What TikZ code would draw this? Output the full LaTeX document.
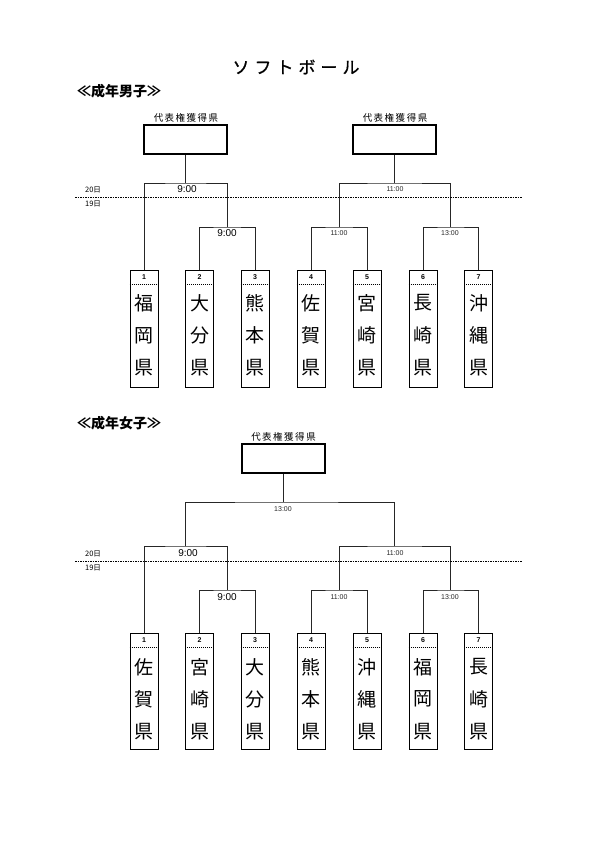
\documentclass[tikz,border=0pt]{standalone}
\usepackage{fontspec}
\setmainfont{Noto Sans CJK JP}
\newfontfamily\jpmed[FakeBold=0.9]{Noto Sans CJK JP}
\newfontfamily\lat{Liberation Sans}
\begin{document}
\begin{tikzpicture}[x=1pt,y=-1pt,
  entry/.style={draw,line width=0.8pt,minimum width=28pt,minimum height=117pt,inner sep=0pt,anchor=north},
  winbox/.style={draw,line width=2.4pt,minimum width=83pt,minimum height=29pt,inner sep=0pt},
  br/.style={line width=0.85pt,draw=black!85},
  sep/.style={line width=0.5pt,dash pattern=on 1pt off 1pt},
  dayline/.style={line width=0.7pt,dash pattern=on 1.5pt off 1pt},
  num/.style={font=\lat\bfseries\fontsize{7}{7}\selectfont,inner sep=0pt},
  kanji/.style={font=\fontsize{19}{19}\selectfont,inner sep=0pt},
  tbig/.style={font=\lat\fontsize{10}{10}\selectfont,inner sep=0pt},
  tsmall/.style={font=\lat\fontsize{7}{7}\selectfont,inner sep=0pt,text=black!85},
  day/.style={font=\fontsize{7.5}{7.5}\selectfont,inner sep=0pt},
  wlabel/.style={font=\fontsize{9.5}{9.5}\selectfont,inner sep=0pt},
  sect/.style={font=\bfseries\fontsize{14}{14}\selectfont,inner sep=0pt,anchor=west},
]
\useasboundingbox (0,0) rectangle (595,842);
\fill[white] (0,0) rectangle (595,842);

% title
\node[font=\jpmed\fontsize{17}{17}\selectfont,inner sep=0pt] (title) at (296,67) {ソ\kern5ptフ\kern5ptト\kern5ptボ\kern5ptー\kern5ptル};

% ===== Male =====
\node[sect] (secM) at (77,91) {≪成年男子≫};

\node[wlabel] (wlM1) at (186,118) {代\kern1.5pt表\kern1.5pt権\kern1.5pt獲\kern1.5pt得\kern1.5pt県};
\node[wlabel] (wlM2) at (395,118) {代\kern1.5pt表\kern1.5pt権\kern1.5pt獲\kern1.5pt得\kern1.5pt県};
\node[winbox] (W1) at (185.5,139.5) {};
\node[winbox] (W2) at (394.5,139.5) {};

\foreach \i/\x/\a/\b in {1/144/福/岡,2/199.5/大/分,3/255/熊/本,4/311/佐/賀,5/367/宮/崎,6/423/長/崎,7/478.5/沖/縄}{
  \node[entry] (m\i) at (\x,270) {};
  \draw[sep] ([yshift=-14pt]m\i.north west) -- ([yshift=-14pt]m\i.north east);
  \node[num] (mn\i) at ([yshift=-7pt]m\i.north) {\i};
  \node[kanji] (mka\i) at ([yshift=-33pt]m\i.north) {\a};
  \node[kanji] (mkb\i) at ([yshift=-65.5pt]m\i.north) {\b};
  \node[kanji] (mkc\i) at ([yshift=-98pt]m\i.north) {県};
}

\coordinate (mL2) at (227,227);
\coordinate (mL1) at (185.5,183);
\coordinate (mR2a) at (339,227);
\coordinate (mR2b) at (450.75,227);
\coordinate (mR1) at (394.5,183);

\draw[br] (m2.north) |- (mL2) -| (m3.north);
\draw[br] (m1.north) |- (mL1) -| (mL2);
\draw[br] (W1.south) -- (mL1);
\draw[br] (m4.north) |- (mR2a) -| (m5.north);
\draw[br] (m6.north) |- (mR2b) -| (m7.north);
\draw[br] (mR2a) |- (mR1) -| (mR2b);
\draw[br] (W2.south) -- (mR1);

\node[tbig] (tM1) at (187,189) {9:00};
\node[tsmall] (tM2) at (395,189) {11:00};
\node[tbig] (tM3) at (227,233) {9:00};
\node[tsmall] (tM4) at (339,233) {11:00};
\node[tsmall] (tM5) at (450,233) {13:00};

\node[day] (dM20) at (93,189.5) {20日};
\node[day] (dM19) at (93,204) {19日};
\coordinate (dlMa) at (75,197);
\coordinate (dlMb) at (522,197);
\draw[dayline] (dlMa) -- (dlMb);

% ===== Female =====
\node[sect] (secF) at (77,423) {≪成年女子≫};
\node[wlabel] (wlF) at (283.5,437) {代\kern1.5pt表\kern1.5pt権\kern1.5pt獲\kern1.5pt得\kern1.5pt県};
\node[winbox] (W3) at (283.5,458.5) {};

\foreach \i/\x/\a/\b in {1/144/佐/賀,2/199.5/宮/崎,3/255/大/分,4/311/熊/本,5/367/沖/縄,6/423/福/岡,7/478.5/長/崎}{
  \node[entry,minimum height=116pt] (f\i) at (\x,633) {};
  \draw[sep] ([yshift=-14pt]f\i.north west) -- ([yshift=-14pt]f\i.north east);
  \node[num] (fn\i) at ([yshift=-7pt]f\i.north) {\i};
  \node[kanji] (fka\i) at ([yshift=-34pt]f\i.north) {\a};
  \node[kanji] (fkb\i) at ([yshift=-66pt]f\i.north) {\b};
  \node[kanji] (fkc\i) at ([yshift=-99pt]f\i.north) {県};
}

\coordinate (fL2) at (227,590);
\coordinate (fL1) at (185.5,546);
\coordinate (fR2a) at (339,590);
\coordinate (fR2b) at (450.75,590);
\coordinate (fR1) at (394.5,546);
\coordinate (fT) at (283.5,502);

\draw[br] (f2.north) |- (fL2) -| (f3.north);
\draw[br] (f1.north) |- (fL1) -| (fL2);
\draw[br] (f4.north) |- (fR2a) -| (f5.north);
\draw[br] (f6.north) |- (fR2b) -| (f7.north);
\draw[br] (fR2a) |- (fR1) -| (fR2b);
\draw[br] (fL1) |- (fT) -| (fR1);
\draw[br] (W3.south) -- (fT);

\node[tsmall] (tF0) at (283,509) {13:00};
\node[tbig] (tF1) at (188,553) {9:00};
\node[tsmall] (tF2) at (395,553) {11:00};
\node[tbig] (tF3) at (227,597) {9:00};
\node[tsmall] (tF4) at (339,597) {11:00};
\node[tsmall] (tF5) at (450,597) {13:00};

\node[day] (dF20) at (93,554) {20日};
\node[day] (dF19) at (93,567.5) {19日};
\coordinate (dlFa) at (75,561);
\coordinate (dlFb) at (522,561);
\draw[dayline] (dlFa) -- (dlFb);
\end{tikzpicture}
\end{document}
